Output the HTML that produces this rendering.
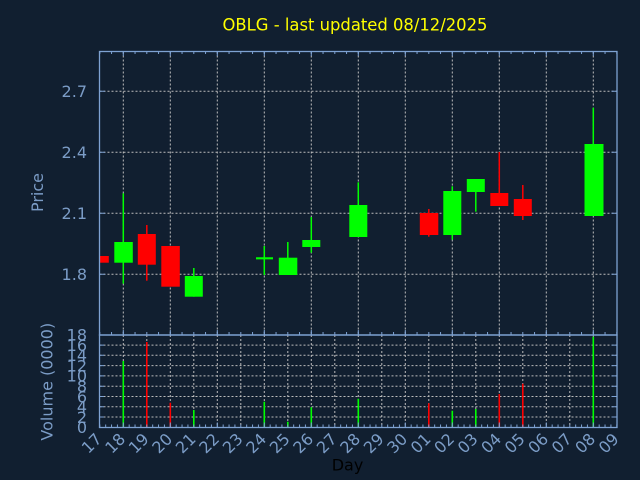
<!DOCTYPE html>
<html><head><meta charset="utf-8"><style>
html,body{margin:0;padding:0;background:#111f30;}
svg{display:block;}
text{font-family:"DejaVu Sans","Liberation Sans",sans-serif;}
</style></head><body>
<svg width="640" height="480" viewBox="0 0 640 480" xmlns="http://www.w3.org/2000/svg">
<defs>
<clipPath id="pc"><rect x="99.5" y="51.5" width="517.5" height="283.5"/></clipPath>
<pattern id="tm" patternUnits="userSpaceOnUse" x="99.3" y="0" width="11.75" height="480"><rect x="0" y="0" width="1" height="480" fill="#7ea2d2"/></pattern>
<pattern id="tM" patternUnits="userSpaceOnUse" x="122.8" y="0" width="47" height="480"><rect x="0" y="0" width="1" height="480" fill="#7ea2d2"/></pattern>
<pattern id="tb" patternUnits="userSpaceOnUse" x="99.3" y="0" width="5.875" height="480"><rect x="0" y="0" width="1" height="480" fill="#7ea2d2"/></pattern>
</defs>
<rect x="0" y="0" width="640" height="480" fill="#111f30"/>

<text x="355" y="30.5" font-size="16.4" fill="#ffff00" text-anchor="middle">OBLG - last updated 08/12/2025</text>

<!-- price grid -->
<g stroke="#bcbcbc" stroke-width="1" stroke-dasharray="2,2" fill="none">
<path d="M99.5 91.3H617M99.5 152.3H617M99.5 213.3H617M99.5 274.3H617"/>
<path d="M123.3 51.5V335M170.3 51.5V335M217.3 51.5V335M264.3 51.5V335M311.3 51.5V335M358.3 51.5V335M405.3 51.5V335M452.3 51.5V335M499.3 51.5V335M546.3 51.5V335M593.3 51.5V335"/>
</g>
<!-- volume grid -->
<g stroke="#bcbcbc" stroke-width="1" stroke-dasharray="2,2" fill="none">
<path d="M99.5 417H617M99.5 406.7H617M99.5 396.5H617M99.5 386.2H617M99.5 375.9H617M99.5 365.6H617M99.5 355.3H617M99.5 345.1H617"/>
<path d="M123.3 335V427.5M146.8 335V427.5M170.3 335V427.5M193.8 335V427.5M217.3 335V427.5M240.8 335V427.5M264.3 335V427.5M287.8 335V427.5M311.3 335V427.5M334.8 335V427.5M358.3 335V427.5M381.8 335V427.5M405.3 335V427.5M428.8 335V427.5M452.3 335V427.5M475.8 335V427.5M499.3 335V427.5M522.8 335V427.5M546.3 335V427.5M569.8 335V427.5M593.3 335V427.5"/>
</g>

<!-- candles -->
<g clip-path="url(#pc)">
<rect x="90.8" y="256" width="18" height="6.7" fill="#ff0000"/>
<g stroke="#00ff00" stroke-width="1.5">
<path d="M123.3 193.3V283.7"/>
<path d="M193.8 268V296.7"/>
<path d="M264.3 246V275"/>
<path d="M287.8 242V275"/>
<path d="M311.3 217V252.7"/>
<path d="M358.3 182.3V237"/>
<path d="M452.3 186.3V239.7"/>
<path d="M475.8 179V211.7"/>
<path d="M593.3 107.7V216"/>
</g>
<path d="M256 258.3H273" stroke="#00ff00" stroke-width="2.2"/>
<g stroke="#ff0000" stroke-width="1.5">
<path d="M146.8 225V280.7"/>
<path d="M428.8 209V236.7"/>
<path d="M499.3 152V206"/>
<path d="M522.8 185V220"/>
</g>
<g fill="#00ff00">
<rect x="114.3" y="242" width="18.5" height="20.7"/>
<rect x="184.8" y="276" width="18" height="20.7"/>
<rect x="278.8" y="257.7" width="18.5" height="17.3"/>
<rect x="302.3" y="240" width="18" height="7"/>
<rect x="349.3" y="205" width="18" height="32"/>
<rect x="443.3" y="191" width="18" height="44"/>
<rect x="466.8" y="179" width="18" height="13"/>
<rect x="584.5" y="144" width="19" height="72"/>
</g>
<g fill="#ff0000">
<rect x="137.8" y="234" width="18" height="30.7"/>
<rect x="161.3" y="246" width="18.5" height="40.7"/>
<rect x="419.8" y="213" width="18.5" height="22"/>
<rect x="490.3" y="193" width="18" height="13"/>
<rect x="513.8" y="199" width="18" height="17"/>
</g>
</g>

<!-- volume bars -->
<g stroke-width="1.6">
<path stroke="#00ff00" d="M123.3 361V427.5M193.8 410V427.5M264.3 401.7V427.5M287.8 421.7V427.5M311.3 407.3V427.5M358.3 398.7V427.5M452.3 410.7V427.5M475.8 409V427.5M593.3 336.7V427.5"/>
<path stroke="#ff0000" d="M146.8 342V427.5M170.3 402.7V427.5M428.8 403.3V427.5M499.3 394V427.5M522.8 383.7V427.5"/>
</g>

<!-- ticks -->
<rect x="99.3" y="51.5" width="518" height="2.5" fill="url(#tm)"/>
<rect x="99.3" y="51.5" width="518" height="4.5" fill="url(#tM)"/>
<rect x="99.3" y="332" width="518" height="3" fill="url(#tm)"/>
<rect x="99.3" y="330" width="518" height="5" fill="url(#tM)"/>
<rect x="99.3" y="424.5" width="518" height="3" fill="url(#tb)"/>
<rect x="99.3" y="422.5" width="518" height="5" fill="url(#tM)"/>
<g stroke="#7ea2d2" stroke-width="1">
<path d="M99.5 91.3H105M99.5 152.3H105M99.5 213.3H105M99.5 274.3H105"/>
<path d="M611.5 91.3H617M611.5 152.3H617M611.5 213.3H617M611.5 274.3H617"/>
<path d="M611.5 417H617M611.5 406.7H617M611.5 396.5H617M611.5 386.2H617M611.5 375.9H617M611.5 365.6H617M611.5 355.3H617M611.5 345.1H617"/>
<path d="M99.5 417H104M99.5 406.7H104M99.5 396.5H104M99.5 386.2H104M99.5 375.9H104M99.5 365.6H104M99.5 355.3H104M99.5 345.1H104"/>
</g>
<!-- axes frames -->
<g stroke="#7ea2d2" stroke-width="1.3" fill="none">
<rect x="99.5" y="51.5" width="517.5" height="283.5"/>
<rect x="99.5" y="335" width="517.5" height="92.5"/>
</g>

<!-- price labels -->
<g font-size="16" fill="#7b9cc6" text-anchor="end">
<text x="87" y="97.1">2.7</text>
<text x="87" y="158.1">2.4</text>
<text x="87" y="219.1">2.1</text>
<text x="87" y="280.1">1.8</text>
</g>
<!-- volume labels -->
<g font-size="16" fill="#7b9cc6" text-anchor="end">
<text x="87" y="433.1">0</text>
<text x="87" y="422.8">2</text>
<text x="87" y="412.5">4</text>
<text x="87" y="402.3">6</text>
<text x="87" y="392">8</text>
<text x="87" y="381.7">10</text>
<text x="87" y="371.4">12</text>
<text x="87" y="361.1">14</text>
<text x="87" y="350.9">16</text>
<text x="87" y="340.6">18</text>
</g>

<text transform="translate(43,192.5) rotate(-90)" font-size="16" fill="#7b9cc6" text-anchor="middle">Price</text>
<text transform="translate(52.3,381.7) rotate(-90)" font-size="16" fill="#7b9cc6" text-anchor="middle">Volume (0000)</text>
<text x="347.5" y="470.7" font-size="16" fill="#000000" text-anchor="middle">Day</text>

<!-- x labels -->
<g font-size="16" fill="#7b9cc6" text-anchor="end">
<text transform="translate(102.8,440) rotate(-45)">17</text>
<text transform="translate(126.3,440) rotate(-45)">18</text>
<text transform="translate(149.8,440) rotate(-45)">19</text>
<text transform="translate(173.3,440) rotate(-45)">20</text>
<text transform="translate(196.8,440) rotate(-45)">21</text>
<text transform="translate(220.3,440) rotate(-45)">22</text>
<text transform="translate(243.8,440) rotate(-45)">23</text>
<text transform="translate(267.3,440) rotate(-45)">24</text>
<text transform="translate(290.8,440) rotate(-45)">25</text>
<text transform="translate(314.3,440) rotate(-45)">26</text>
<text transform="translate(337.8,440) rotate(-45)">27</text>
<text transform="translate(361.3,440) rotate(-45)">28</text>
<text transform="translate(384.8,440) rotate(-45)">29</text>
<text transform="translate(408.3,440) rotate(-45)">30</text>
<text transform="translate(431.8,440) rotate(-45)">01</text>
<text transform="translate(455.3,440) rotate(-45)">02</text>
<text transform="translate(478.8,440) rotate(-45)">03</text>
<text transform="translate(502.3,440) rotate(-45)">04</text>
<text transform="translate(525.8,440) rotate(-45)">05</text>
<text transform="translate(549.3,440) rotate(-45)">06</text>
<text transform="translate(572.8,440) rotate(-45)">07</text>
<text transform="translate(596.3,440) rotate(-45)">08</text>
<text transform="translate(619.8,440) rotate(-45)">09</text>
</g>
</svg>
</body></html>
